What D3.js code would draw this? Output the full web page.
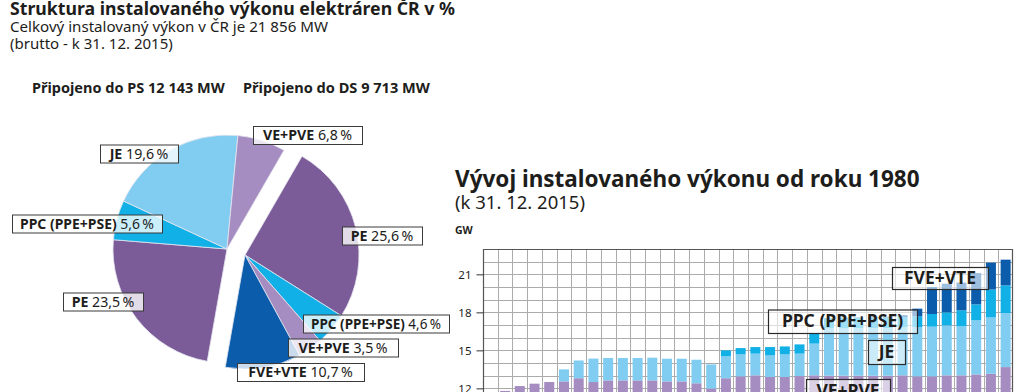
<!DOCTYPE html>
<html><head><meta charset="utf-8">
<script src="https://cdn.jsdelivr.net/npm/d3@7/dist/d3.min.js"></script>
<style>body{margin:0;background:#fff}svg{display:block}text{font-family:"Noto Sans","DejaVu Sans",sans-serif;fill:#1d1d1b}</style>
</head><body>
<script>
// ---------- DATA: pie (share of installed capacity, %) ----------
const dsNames  = ["PE", "PPC (PPE+PSE)", "VE+PVE", "FVE+VTE"];   // Připojeno do DS
const dsValues = [25.6, 4.6, 3.5, 10.7];
const psNames  = ["PE", "PPC (PPE+PSE)", "JE", "VE+PVE"];        // Připojeno do PS
const psValues = [23.5, 5.6, 19.6, 6.8];

// ---------- DATA: bars (installed capacity, GW) ----------
const years = [1980,1981,1982,1983,1984,1985,1986,1987,1988,1989,1990,1991,1992,1993,1994,1995,1996,1997,
               1998,1999,2000,2001,2002,2003,2004,2005,2006,2007,2008,2009,2010,2011,2012,2013,2014,2015];
const pe  = [10.00,10.40,10.73,10.92,11.05,11.10,11.35,11.05,11.18,11.18,11.18,11.18,11.10,11.10,10.95,10.53,10.70,10.85,
             10.93,10.80,10.80,10.87,10.88,10.85,10.83,10.83,10.82,10.82,10.84,10.76,10.75,10.83,10.83,10.87,10.91,11.43];
const ve  = [1.40,1.40,1.45,1.45,1.45,1.45,1.45,1.45,1.45,1.45,1.45,1.45,1.45,1.45,1.45,1.45,2.10,2.10,
             2.10,2.10,2.10,2.10,2.15,2.15,2.17,2.17,2.18,2.18,2.19,2.19,2.20,2.20,2.20,2.23,2.24,2.25];
const je  = [0,0,0,0,0,0.95,1.40,1.85,1.77,1.77,1.77,1.79,1.79,1.79,1.86,1.91,1.73,1.73,
             1.71,1.70,1.78,1.77,2.50,3.76,3.76,3.76,3.76,3.76,3.80,3.89,3.92,3.94,3.87,4.27,4.45,4.27];
const ppc = [0,0,0,0,0,0,0,0,0,0,0,0,0,0,0,0,0.47,0.50,
             0.52,0.66,0.63,0.73,0.85,0.78,0.80,0.80,0.82,0.82,0.80,0.84,1.00,1.03,1.26,1.26,2.20,2.18];
const fve = [0,0,0,0,0,0,0,0,0,0,0,0,0,0,0,0,0,0,
             0,0,0,0,0,0.02,0.03,0.04,0.05,0.08,0.15,0.61,2.13,2.26,2.19,2.47,2.12,2.03];
const yTicks = [0,3,6,9,12,15,18,21];

// ---------- STYLE ----------
const colors = {"PE":"#7b5b98","VE+PVE":"#a58cc1","JE":"#80cdf1","PPC (PPE+PSE)":"#11b0e7","FVE+VTE":"#0b5dab"};
const fmt = v => d3.format(".1f")(v).replace(".", ",");

const svg = d3.select("body").append("svg").attr("width",1024).attr("height",392);

function fit(sel, w){ const l = sel.node().getComputedTextLength(); sel.attr("font-size", parseFloat(sel.attr("font-size"))*w/l); return sel; }

// ---------- Left headings ----------
fit(svg.append("text").attr("x",10).attr("y",15).attr("font-size",15).attr("font-weight",700)
  .text("Struktura instalovaného výkonu elektráren ČR v %"), 445);
fit(svg.append("text").attr("x",10).attr("y",32).attr("font-size",13.5)
  .text("Celkový instalovaný výkon v ČR je 21 856 MW"), 318);
fit(svg.append("text").attr("x",10).attr("y",49).attr("font-size",13.5)
  .text("(brutto - k 31. 12. 2015)"), 163);
fit(svg.append("text").attr("x",32).attr("y",93).attr("font-size",13.5).attr("font-weight",700)
  .text("Připojeno do PS 12 143 MW"), 193);
fit(svg.append("text").attr("x",243).attr("y",93).attr("font-size",13.5).attr("font-weight",700)
  .text("Připojeno do DS 9 713 MW"), 187);

// ---------- Pie ----------
const slices = dsNames.map((n,i)=>({name:n,value:dsValues[i],grp:"DS"}))
  .concat(psNames.map((n,i)=>({name:n,value:psValues[i],grp:"PS"})));
const a0 = 30*Math.PI/180;
const pie = d3.pie().sort(null).value(d=>d.value).startAngle(a0).endAngle(a0+2*Math.PI);
const arc = d3.arc().innerRadius(0).outerRadius(114);
const centers = {PS:[227,249], DS:[245,255]};
svg.append("g").selectAll("path").data(pie(slices)).join("path")
  .attr("transform", d=>`translate(${centers[d.data.grp]})`)
  .attr("d", arc).attr("fill", d=>colors[d.data.name])
  .attr("stroke","#e6e6f0").attr("stroke-width",0.8);

// pie label boxes (left x, centre y, box width) in slice order
const pieLabelPos = [[342,236,80],[303,324,146],[288,348,110],[237,372.5,127],[63,302,80],[12,224,150],[100,154,78],[253,135.5,109]];
slices.forEach((s,i)=>{
  const [bx,by,bw] = pieLabelPos[i];
  const g = svg.append("g");
  g.append("rect").attr("x",bx+0.5).attr("y",by-9).attr("width",bw).attr("height",18)
    .attr("fill","#fff").attr("fill-opacity",0.78).attr("stroke","#3a3a3a").attr("stroke-width",1);
  const t = g.append("text").attr("x",bx+bw/2).attr("y",by+4.8).attr("font-size",13).attr("text-anchor","middle");
  t.append("tspan").attr("font-weight",700).text(s.name+" ");
  t.append("tspan").text(fmt(s.value)+"\u2009%");
  const w = t.node().getComputedTextLength();
  t.attr("font-size", Math.min(14.2, 13*(bw-16)/w));
});

// ---------- Bar chart headings ----------
fit(svg.append("text").attr("x",455).attr("y",187).attr("font-size",20).attr("font-weight",700)
  .text("Vývoj instalovaného výkonu od roku 1980"), 465);
fit(svg.append("text").attr("x",455).attr("y",208.5).attr("font-size",16)
  .text("(k 31. 12. 2015)"), 130);
svg.append("text").attr("x",455).attr("y",234).attr("font-size",10.5).attr("font-weight",700).text("GW");

// ---------- Bar chart ----------
const x = d3.scaleBand().domain(years).range([483,1013]).paddingInner(0.32).paddingOuter(0.16);
const y = d3.scaleLinear().domain([0,23]).range([540.4,249]);
const grid = svg.append("g").attr("stroke","#ababab").attr("stroke-width",1);
grid.selectAll("line.h").data(d3.range(0,23)).join("line").attr("class","h")
  .attr("x1",483).attr("x2",1013).attr("y1",d=>Math.round(y(d))+0.5).attr("y2",d=>Math.round(y(d))+0.5);
grid.selectAll("line.v").data(d3.range(1,36)).join("line").attr("class","v")
  .attr("x1",d=>Math.round(483+d*x.step())+0.5).attr("x2",d=>Math.round(483+d*x.step())+0.5)
  .attr("y1",y(23)).attr("y2",y(0));

const keys = ["PE","VE+PVE","JE","PPC (PPE+PSE)","FVE+VTE"];
const arrs = [pe,ve,je,ppc,fve];
const rows = years.map((yr,i)=>{ const o={year:yr}; keys.forEach((k,j)=>o[k]=arrs[j][i]); return o; });
const stack = d3.stack().keys(keys)(rows);
svg.append("g").selectAll("g").data(stack).join("g").attr("fill",d=>colors[d.key])
  .selectAll("rect").data(d=>d).join("rect")
  .attr("x",d=>x(d.data.year)).attr("width",x.bandwidth())
  .attr("y",d=>y(d[1])).attr("height",d=>Math.max(0,y(d[0])-y(d[1])));

// border
svg.append("path").attr("d",`M483.5,${y(0)}V${y(23)+0.5}H1012.5V${y(0)}`)
  .attr("fill","none").attr("stroke","#555").attr("stroke-width",1.2);

// y axis
const yAxis = svg.append("g").attr("transform","translate(483.5,0)")
  .call(d3.axisLeft(y).tickValues(yTicks).tickSize(7).tickPadding(5));
yAxis.select(".domain").remove();
yAxis.selectAll(".tick line").attr("stroke","#333");
yAxis.selectAll(".tick text").attr("font-size",11.5).attr("fill","#1d1d1b")
  .style("font-family","'Noto Sans',sans-serif");

// bar series labels
const barLabelBox = [["FVE+VTE",892,267,988,289],["PPC (PPE+PSE)",768,309.5,917,333],["JE",868,340,905,364],["VE+PVE",806,379,890,403]];
barLabelBox.forEach(([name,x0,y0,x1,y1])=>{
  svg.append("rect").attr("x",x0+0.5).attr("y",y0+0.5).attr("width",x1-x0).attr("height",y1-y0)
    .attr("fill","#fff").attr("fill-opacity",0.6).attr("stroke","#2a2a2a").attr("stroke-width",1.2);
  const t = svg.append("text").attr("x",(x0+x1)/2).attr("y",(y0+y1)/2+6.2).attr("text-anchor","middle")
    .attr("font-size",17.5).attr("font-weight",700).text(name);
  const w = t.node().getComputedTextLength();
  if (w > (x1-x0)-12) t.attr("font-size", 17.5*((x1-x0)-12)/w);
});
</script>
</body></html>
